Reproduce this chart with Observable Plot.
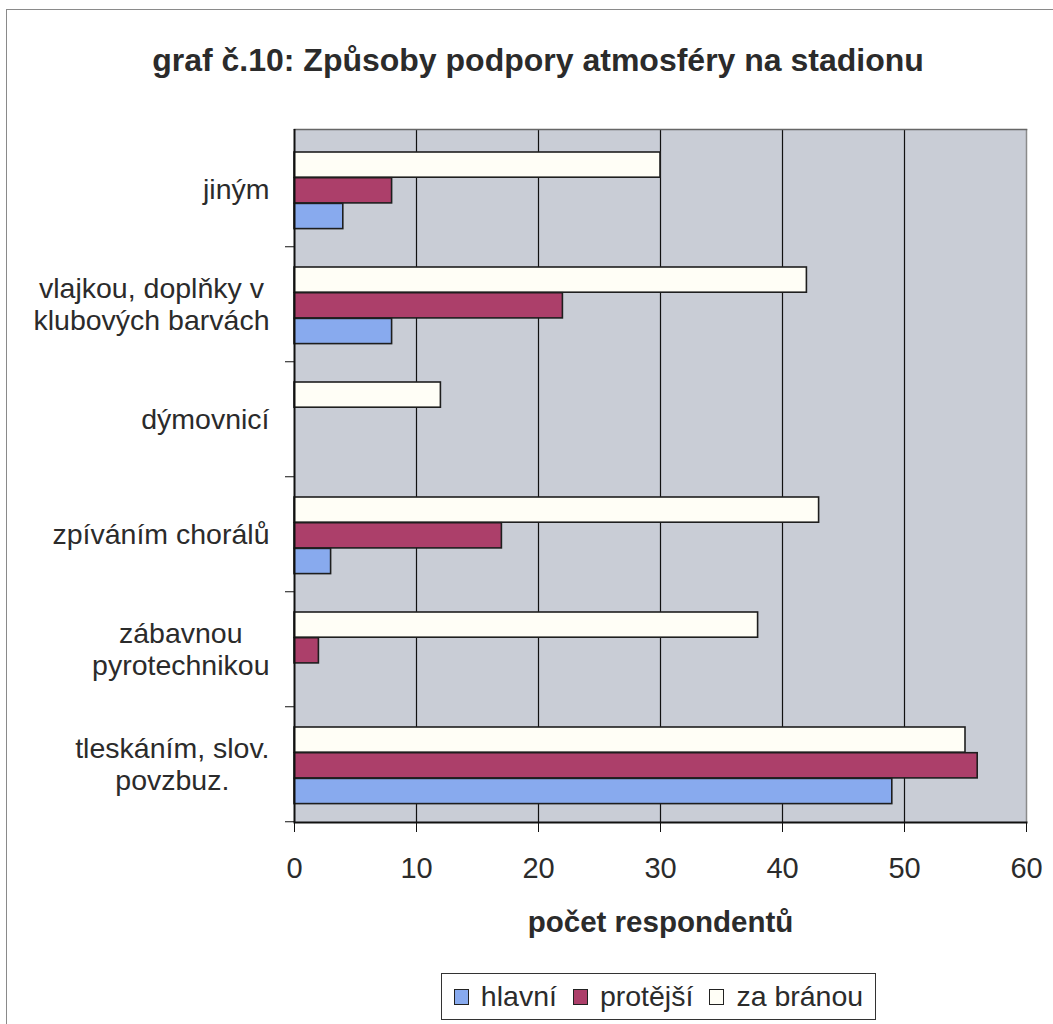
<!DOCTYPE html>
<html><head><meta charset="utf-8">
<script src="https://cdn.jsdelivr.net/npm/d3@7"></script>
<script src="https://cdn.jsdelivr.net/npm/@observablehq/plot@0.6"></script>
<style>
body{margin:0;background:#fff;font-family:"Liberation Sans",Arial,sans-serif;color:#2b2b2b}
#wrap{position:relative;width:1053px;height:1024px;overflow:hidden}
#border{position:absolute;left:6px;top:9px;right:-10px;bottom:-10px;border-left:1.5px solid #8a8a8a;border-top:1.5px solid #8a8a8a}
#title{position:absolute;left:0;width:1076px;top:44px;text-align:center;font-weight:bold;font-size:32px;line-height:32px;white-space:nowrap}
#chart{position:absolute;left:0;top:100px}
#legend{position:absolute;left:441px;top:973px;width:433px;height:45px;border:1.5px solid #333;display:flex;align-items:center;justify-content:center;font-size:28.5px;box-sizing:content-box}
.item{display:flex;align-items:center;margin:0 8px}
.sw{width:13px;height:14px;border:1.5px solid #222;margin-right:12px;display:inline-block}
</style></head>
<body>
<div id="wrap">
  <div id="border"></div>
  <div id="title">graf č.10: Způsoby podpory atmosféry na stadionu</div>
  <div id="chart"></div>
  <div id="legend"></div>
</div>
<script>
const categories = ["jiným", "vlajkou, doplňky v\nklubových barvách", "dýmovnicí", "zpíváním chorálů", "zábavnou\npyrotechnikou", "tleskáním, slov.\npovzbuz."];
const seriesNames = ["hlavní", "protější", "za bránou"];
const hlavni = [4, 8, 0, 3, 0, 49];
const protejsi = [8, 22, 0, 17, 2, 56];
const zaBranou = [30, 42, 12, 43, 38, 55];
const xTicks = [0, 10, 20, 30, 40, 50, 60];
const gridTicks = [10, 20, 30, 40, 50];
const seriesColors = ["#88aaee", "#ac3f6a", "#fffef6"];
const xLabel = "počet respondentů";

const seriesValues = [hlavni, protejsi, zaBranou];
const rows = [];
seriesNames.forEach((s, si) => categories.forEach((c, ci) => rows.push({cat: c, series: s, value: seriesValues[si][ci]})));

const W = 1053, H = 840, mTop = 29, mBottom = 118, mLeft = 294, mRight = 27;
const bandH = (H - mTop - mBottom) / categories.length;
const barH = 25.7, groupTop = 21;
const stackOrder = ["za bránou", "protější", "hlavní"]; // top to bottom within a category

const barMark = (s) => {
  const k = stackOrder.indexOf(s);
  return Plot.barX(rows.filter(d => d.series === s), {
    y: "cat", x: "value", fill: "series", stroke: "#1e1e1e", strokeWidth: 1.6,
    insetTop: groupTop + k * barH, insetBottom: bandH - groupTop - (k + 1) * barH
  });
};

const chart = Plot.plot({
  width: W, height: H,
  marginTop: mTop, marginBottom: mBottom, marginLeft: mLeft, marginRight: mRight,
  style: {fontFamily: "Liberation Sans, Arial, sans-serif", color: "#2b2b2b", background: "transparent"},
  x: {domain: [0, 60]},
  y: {domain: categories, padding: 0},
  color: {domain: seriesNames, range: seriesColors},
  marks: [
    Plot.frame({fill: "#c9cdd6"}),
    Plot.gridX({ticks: gridTicks, stroke: "#111", strokeOpacity: 1, strokeWidth: 1.2}),
    Plot.ruleX([60], {stroke: "#8a8a8a", strokeWidth: 1.5}),
    Plot.frame({anchor: "top", stroke: "#666", strokeWidth: 1.5}),
    ...stackOrder.map(barMark),
    Plot.ruleX([0], {stroke: "#111", strokeWidth: 2}),
    Plot.frame({anchor: "bottom", stroke: "#111", strokeWidth: 2}),
    Plot.axisX({ticks: xTicks, tickSize: 10, tickPadding: 25, fontSize: 29, label: null, stroke: "#111"}),
    Plot.axisY({tickSize: 0, tickPadding: 25, fontSize: 28.5, label: null, lineHeight: 1.1}),
    Plot.axisY({tickSize: 9, tickFormat: () => "", dy: bandH / 2, label: null, stroke: "#111"}),
    Plot.text([xLabel], {frameAnchor: "bottom", dy: 100, fontSize: 29.5, fontWeight: "bold", lineAnchor: "middle", fill: "#2b2b2b"})
  ]
});
document.getElementById("chart").appendChild(chart);

// centre the lines of multi-line category labels on each other
chart.querySelectorAll('g[aria-label="y-axis tick label"] text').forEach(t => {
  const spans = t.querySelectorAll("tspan");
  if (spans.length < 2) return;
  const ws = Array.from(spans, s => s.getComputedTextLength());
  const maxW = Math.max(...ws);
  spans.forEach((s, i) => s.setAttribute("x", -(maxW - ws[i]) / 2));
});

const legend = document.getElementById("legend");
seriesNames.forEach((s, i) => {
  const item = document.createElement("span");
  item.className = "item";
  const sw = document.createElement("span");
  sw.className = "sw";
  sw.style.background = seriesColors[i];
  const tx = document.createElement("span");
  tx.textContent = s;
  item.appendChild(sw); item.appendChild(tx);
  legend.appendChild(item);
});
</script>
</body></html>
